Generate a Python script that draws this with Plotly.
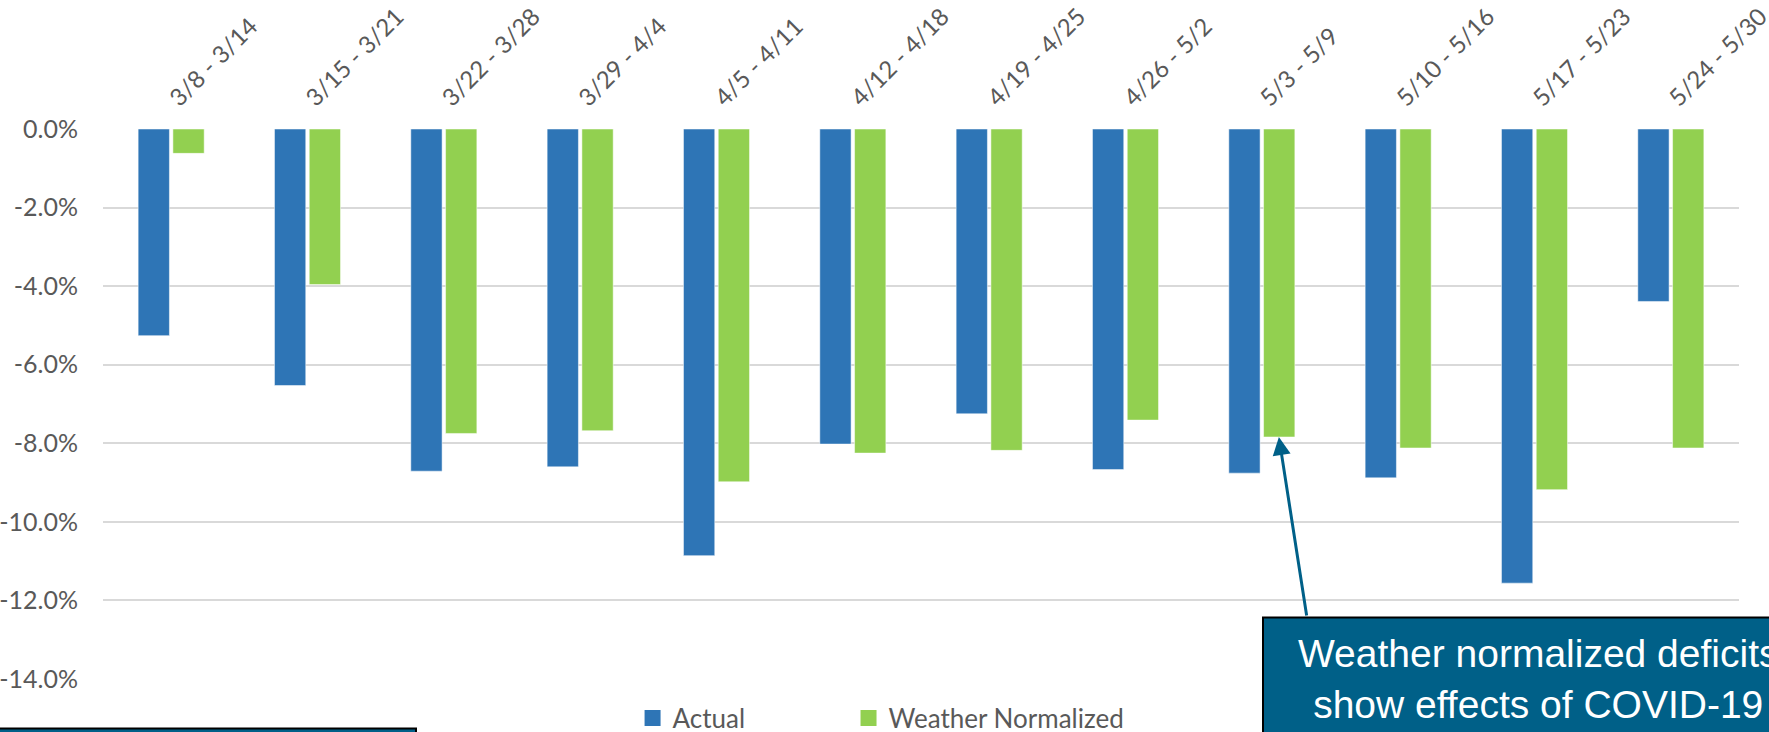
import plotly.graph_objects as go

categories = ["3/8 - 3/14", "3/15 - 3/21", "3/22 - 3/28", "3/29 - 4/4", "4/5 - 4/11",
              "4/12 - 4/18", "4/19 - 4/25", "4/26 - 5/2", "5/3 - 5/9", "5/10 - 5/16",
              "5/17 - 5/23", "5/24 - 5/30"]
actual = [-5.26, -6.53, -8.71, -8.60, -10.86, -8.02, -7.25, -8.67, -8.76, -8.88, -11.56, -4.39]
weather_normalized = [-0.62, -3.96, -7.75, -7.68, -8.98, -8.25, -8.18, -7.41, -7.84, -8.12, -9.18, -8.12]
y_ticks = [0, -2, -4, -6, -8, -10, -12, -14]
y_tick_labels = ["0.0%", "-2.0%", "-4.0%", "-6.0%", "-8.0%", "-10.0%", "-12.0%", "-14.0%"]
callout_text = "Weather normalized deficits<br>show effects of COVID-19"

BLUE = "#2E75B6"
GREEN = "#92D050"
TEAL = "#006088"
GRAY = "#595959"
FONT = "Lato, Open Sans, sans-serif"

fig = go.Figure()
fig.add_trace(go.Bar(x=categories, y=[v / 100 for v in actual], name="Actual",
                     marker=dict(color=BLUE, line=dict(color="rgba(255,255,255,0.5)", width=1)),
                     showlegend=False))
fig.add_trace(go.Bar(x=categories, y=[v / 100 for v in weather_normalized], name="Weather Normalized",
                     marker=dict(color=GREEN, line=dict(color="rgba(255,255,255,0.5)", width=1)),
                     showlegend=False))
# legend entries
fig.add_trace(go.Scatter(x=[None], y=[None], mode="markers", name="Actual", legend="legend",
                         marker=dict(symbol="square", size=16, color=BLUE)))
fig.add_trace(go.Scatter(x=[None], y=[None], mode="markers", name="Weather Normalized", legend="legend2",
                         marker=dict(symbol="square", size=16, color=GREEN)))

legend_common = dict(orientation="h", yanchor="middle", y=-0.071, xanchor="left",
                     font=dict(family=FONT, size=26, color=GRAY), bgcolor="rgba(0,0,0,0)")

fig.update_layout(
    width=1769, height=732,
    margin=dict(l=103, r=30, t=129, b=53, autoexpand=False),
    paper_bgcolor="white", plot_bgcolor="white",
    barmode="group", bargap=0.49, bargroupgap=0.1,
    font=dict(family=FONT, size=25, color=GRAY),
    legend=dict(x=0.3237, **legend_common),
    legend2=dict(x=0.4557, **legend_common),
    xaxis=dict(side="top", tickangle=-45, showgrid=False, showline=False, ticks="",
               tickfont=dict(family=FONT, size=24, color=GRAY), ticklabelstandoff=12,
               automargin=False, fixedrange=True),
    yaxis=dict(range=[-0.14, 0], tickvals=[v / 100 for v in y_ticks], ticktext=y_tick_labels,
               showgrid=True, gridcolor="#D9D9D9", gridwidth=1.5, zeroline=False,
               showline=False, ticks="", ticklabelstandoff=24, automargin=False,
               tickfont=dict(family=FONT, size=25, color=GRAY)),
    shapes=[
        dict(type="rect", xref="paper", yref="paper", x0=(1263 - 103) / 1636, x1=1.1,
             y0=-0.3, y1=(678.5 - 617) / 549.5, fillcolor=TEAL,
             line=dict(color="black", width=2), layer="above"),
        dict(type="rect", xref="paper", yref="paper", x0=-0.1, x1=(416 - 103) / 1636,
             y0=-0.3, y1=(678.5 - 728) / 549.5, fillcolor=TEAL,
             line=dict(color="black", width=2), layer="above"),
    ],
    annotations=[
        dict(x=8.125, y=weather_normalized[8] / 100, xref="x", yref="y",
             ax=28, ay=180, axref="pixel", ayref="pixel",
             showarrow=True, arrowhead=2, arrowsize=1.2, arrowwidth=3, arrowcolor=TEAL,
             text=""),
        dict(x=(1538 - 103) / 1636, y=0.0, xref="paper", yref="paper",
             xanchor="center", yanchor="middle", showarrow=False, text=callout_text,
             font=dict(family="Liberation Sans, Arial, sans-serif", size=39, color="white"),
             align="center"),
    ],
)

fig.write_html("out.html", config={"displayModeBar": False},
               post_script="document.body.style.margin='0';")
